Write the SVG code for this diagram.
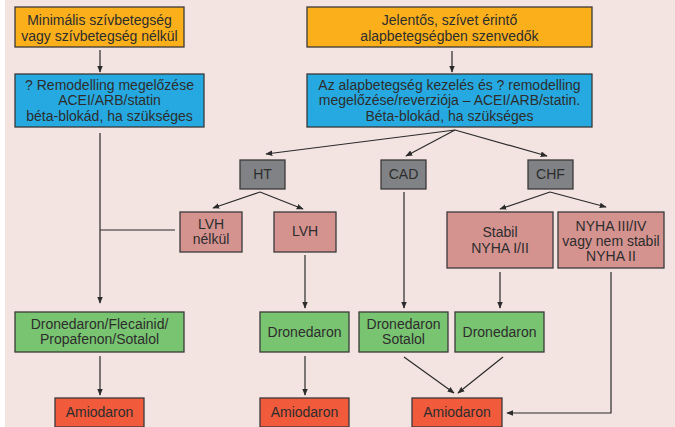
<svg xmlns="http://www.w3.org/2000/svg" width="675" height="427" viewBox="0 0 675 427">
  <defs>
    <marker id="arr" viewBox="0 0 10 10" refX="9" refY="5" markerWidth="7" markerHeight="7" markerUnits="userSpaceOnUse" orient="auto">
      <path d="M0,1 L10,5 L0,9 z" fill="#2b2b2b"/>
    </marker>
    <style>
      .box { stroke: #3a3a3a; stroke-width: 1.3; }
      .orange { fill: #fbb01b; }
      .blue { fill: #26a9e0; }
      .gray { fill: #808285; }
      .pink { fill: #d59390; }
      .green { fill: #79c471; }
      .red { fill: #f15a3b; }
      text { font-family: "Liberation Sans", Arial, sans-serif; font-size: 14px; fill: #2d2d2d; text-anchor: middle; }
      .conn line, .conn polyline { stroke: #2b2b2b; stroke-width: 1.2; fill: none; }
    </style>
  </defs>

  <rect x="5" y="0" width="670" height="427" fill="#f3e3e1"/>

  <!-- connectors -->
  <g class="conn">
    <line x1="100" y1="50" x2="100" y2="72" marker-end="url(#arr)"/>
    <line x1="452" y1="51" x2="452" y2="72" marker-end="url(#arr)"/>
    <line x1="100" y1="133" x2="100" y2="303" marker-end="url(#arr)"/>
    <line x1="100" y1="230" x2="175" y2="230"/>
    <line x1="455" y1="130" x2="266" y2="154" marker-end="url(#arr)"/>
    <line x1="455" y1="130" x2="406" y2="156" marker-end="url(#arr)"/>
    <line x1="455" y1="130" x2="547" y2="156" marker-end="url(#arr)"/>
    <line x1="260" y1="192" x2="213" y2="208" marker-end="url(#arr)"/>
    <line x1="260" y1="192" x2="303" y2="209" marker-end="url(#arr)"/>
    <line x1="550" y1="192" x2="500" y2="209" marker-end="url(#arr)"/>
    <line x1="550" y1="192" x2="606" y2="207" marker-end="url(#arr)"/>
    <line x1="404" y1="192" x2="404" y2="308" marker-end="url(#arr)"/>
    <line x1="305" y1="255" x2="305" y2="308" marker-end="url(#arr)"/>
    <line x1="500" y1="272" x2="500" y2="308" marker-end="url(#arr)"/>
    <polyline points="611,272 611,413 507,413" marker-end="url(#arr)"/>
    <line x1="100" y1="356" x2="100" y2="395" marker-end="url(#arr)"/>
    <line x1="305" y1="356" x2="305" y2="395" marker-end="url(#arr)"/>
    <line x1="404" y1="357" x2="454" y2="393" marker-end="url(#arr)"/>
    <line x1="503" y1="357" x2="458" y2="393" marker-end="url(#arr)"/>
  </g>

  <g id="minimal">
    <rect class="box orange" x="15" y="7" width="169" height="40"/>
    <text x="99.5" y="25">Minimális szívbetegség</text>
    <text x="99.5" y="41">vagy szívbetegség nélkül</text>
  </g>
  <g id="jelentos">
    <rect class="box orange" x="307" y="7" width="285" height="40"/>
    <text x="449.5" y="25">Jelentős, szívet érintő</text>
    <text x="449.5" y="41">alapbetegségben szenvedők</text>
  </g>
  <g id="remodelling">
    <rect class="box blue" x="15" y="74" width="189" height="53"/>
    <text x="109.5" y="90">? Remodelling megelőzése</text>
    <text x="109.5" y="105">ACEI/ARB/statin</text>
    <text x="109.5" y="121">béta-blokád, ha szükséges</text>
  </g>
  <g id="alapbetegseg">
    <rect class="box blue" x="307" y="74" width="285" height="53"/>
    <text x="449.5" y="90">Az alapbetegség kezelés és ? remodelling</text>
    <text x="449.5" y="105">megelőzése/reverziója – ACEI/ARB/statin.</text>
    <text x="449.5" y="121">Béta-blokád, ha szükséges</text>
  </g>
  <g id="ht">
    <rect class="box gray" x="240" y="160" width="45" height="29"/>
    <text x="262.5" y="179">HT</text>
  </g>
  <g id="cad">
    <rect class="box gray" x="381" y="160" width="45" height="29"/>
    <text x="403.5" y="179">CAD</text>
  </g>
  <g id="chf">
    <rect class="box gray" x="528" y="160" width="45" height="29"/>
    <text x="550.5" y="179">CHF</text>
  </g>
  <g id="lvh-nelkul">
    <rect class="box pink" x="180" y="212" width="62" height="40"/>
    <text x="211" y="229">LVH</text>
    <text x="211" y="244">nélkül</text>
  </g>
  <g id="lvh">
    <rect class="box pink" x="274" y="212" width="62" height="40"/>
    <text x="305" y="236">LVH</text>
  </g>
  <g id="stabil">
    <rect class="box pink" x="447" y="212" width="106" height="56"/>
    <text x="500" y="237">Stabil</text>
    <text x="500" y="253">NYHA I/II</text>
  </g>
  <g id="nyha34">
    <rect class="box pink" x="558" y="212" width="106" height="56"/>
    <text x="611" y="231">NYHA III/IV</text>
    <text x="611" y="246">vagy nem stabil</text>
    <text x="611" y="261">NYHA II</text>
  </g>
  <g id="dron-flec">
    <rect class="box green" x="15" y="312" width="169" height="40"/>
    <text x="99.5" y="329">Dronedaron/Flecainid/</text>
    <text x="99.5" y="344">Propafenon/Sotalol</text>
  </g>
  <g id="dron-1">
    <rect class="box green" x="260" y="312" width="89" height="40"/>
    <text x="304.5" y="337">Dronedaron</text>
  </g>
  <g id="dron-sotalol">
    <rect class="box green" x="359" y="312" width="89" height="40"/>
    <text x="403.5" y="329">Dronedaron</text>
    <text x="403.5" y="344">Sotalol</text>
  </g>
  <g id="dron-2">
    <rect class="box green" x="455" y="312" width="89" height="40"/>
    <text x="499.5" y="337">Dronedaron</text>
  </g>
  <g id="amio-1">
    <rect class="box red" x="55" y="398" width="89" height="29"/>
    <text x="99.5" y="417">Amiodaron</text>
  </g>
  <g id="amio-2">
    <rect class="box red" x="260" y="398" width="89" height="29"/>
    <text x="304.5" y="417">Amiodaron</text>
  </g>
  <g id="amio-3">
    <rect class="box red" x="412" y="398" width="90" height="29"/>
    <text x="457" y="417">Amiodaron</text>
  </g>
</svg>
